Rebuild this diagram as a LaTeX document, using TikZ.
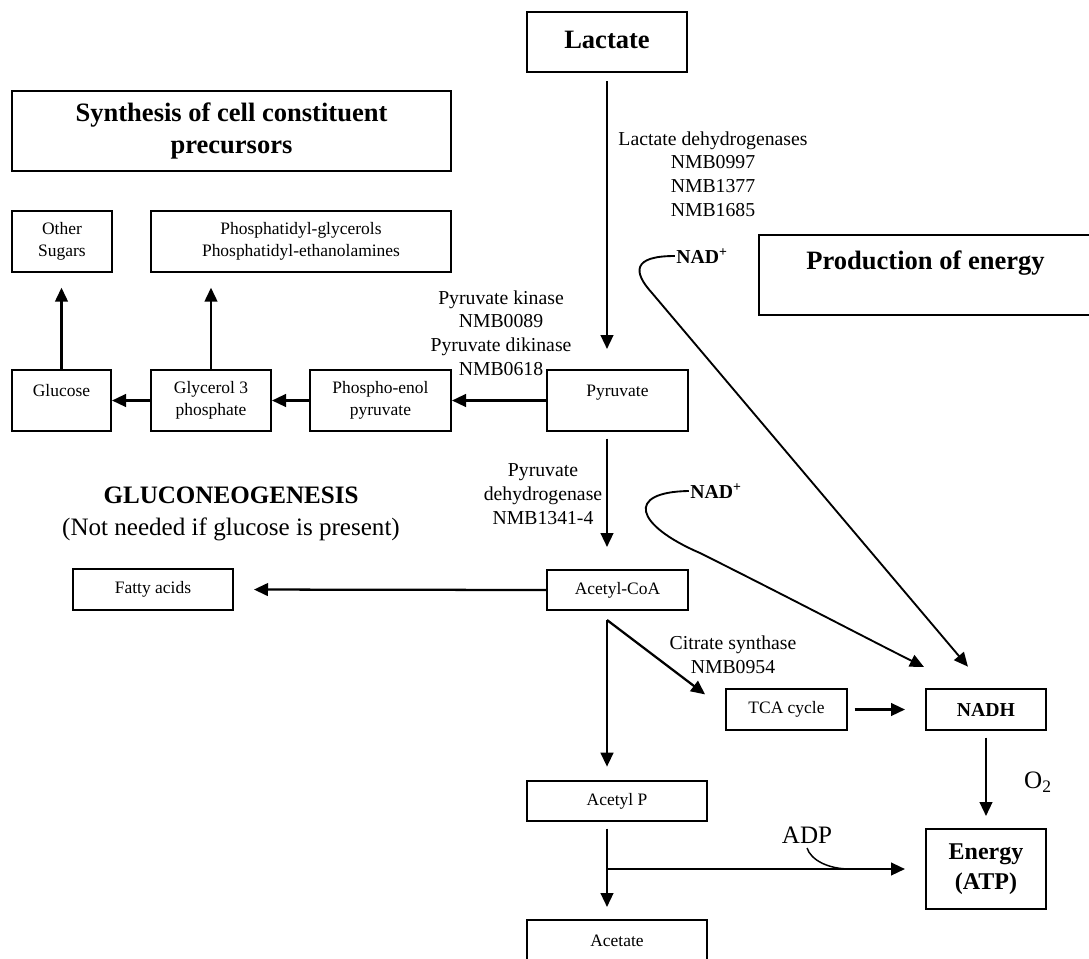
\documentclass[tikz,border=0pt]{standalone}
\usepackage{fontspec}
\setmainfont{Liberation Serif}
\usetikzlibrary{arrows.meta}

\newcommand{\boxfont}{\fontsize{13.1pt}{16.5pt}\selectfont}
\newcommand{\enzfont}{\fontsize{14.8pt}{17.8pt}\selectfont}
\newcommand{\headfont}{\fontsize{19.9pt}{24pt}\selectfont\bfseries}
\newcommand{\sidefont}{\fontsize{18.8pt}{24pt}\selectfont}
\newcommand{\energyfont}{\fontsize{18pt}{22.5pt}\selectfont\bfseries}

\tikzset{
  box/.style={draw, line width=1.5pt, align=center, inner sep=0pt, font=\boxfont},
  headbox/.style={box, font=\headfont},
  upper/.style={text height=9pt, text depth=15pt},
  flow/.style={line width=1.7pt, -{Triangle[length=10.5pt,width=9.5pt]}},
  recycle/.style={line width=1.4pt, -{Triangle[length=10.5pt,width=9.5pt]}},
  enz/.style={align=center, font=\enzfont},
  cofac/.style={inner sep=1pt, font=\enzfont\bfseries},
}

\begin{document}
\begin{tikzpicture}[x=0.75pt, y=-0.75pt]
    \useasboundingbox (0,0) rectangle (1089,958);
    \clip (0,0) rectangle (1089,958);
    % headings
    \node[headbox, minimum width=120pt, minimum height=45pt, text depth=3pt] (lactate) at (607,42) {Lactate};
    \node[headbox, minimum width=329.25pt, minimum height=60pt] (synth) at (231.5,131) {Synthesis of cell constituent\\precursors};
    \node[headbox, minimum width=249.75pt, minimum height=60pt, text height=14pt, text depth=23pt] (prod) at (925.5,275) {Production of energy};
    % precursors
    \node[box, minimum width=75pt, minimum height=45.75pt] (sugars) at (62,241.5) {Other\\Sugars};
    \node[box, minimum width=225pt, minimum height=45.75pt] (lipids) at (301,241.5) {Phosphatidyl-glycerols\\Phosphatidyl-ethanolamines};
    % gluconeogenesis row
    \node[box, upper, minimum width=74.25pt, minimum height=45.75pt] (glucose) at (61.5,400.5) {Glucose};
    \node[box, minimum width=90pt, minimum height=45.75pt] (glycerol) at (211,400.5) {Glycerol 3\\phosphate};
    \node[box, minimum width=105.75pt, minimum height=45.75pt] (pep) at (380.5,400.5) {Phospho-enol\\pyruvate};
    \node[box, upper, minimum width=105.75pt, minimum height=45.75pt] (pyruvate) at (617.5,400.5) {Pyruvate};
    \node[align=center, font=\sidefont] (gng) at (231,514) {\textbf{GLUCONEOGENESIS}\\(Not needed if glucose is present)};
    % lower column
    \node[box, minimum width=120pt, minimum height=30.75pt] (fatty) at (153,589.5) {Fatty acids};
    \node[box, minimum width=105.75pt, minimum height=30pt] (acoa) at (617.5,590) {Acetyl-CoA};
    \node[box, minimum width=135pt, minimum height=30pt] (acetp) at (617,801) {Acetyl P};
    \node[box, minimum width=135pt, minimum height=30.75pt] (acetate) at (617,940.5) {Acetate};
    % energy side
    \node[box, minimum width=90.75pt, minimum height=30.75pt] (tca) at (786.5,709.5) {TCA cycle};
    \node[box, font=\enzfont\bfseries, minimum width=90pt, minimum height=30.75pt] (nadh) at (986,709.5) {NADH};
    \node[box, font=\energyfont, minimum width=90pt, minimum height=60pt] (energy) at (986,869) {Energy\\(ATP)};
    % enzymes
    \node[enz] (ldh) at (713,174) {Lactate dehydrogenases\\NMB0997\\NMB1377\\NMB1685};
    \node[enz] (pk) at (501,333) {Pyruvate kinase\\NMB0089\\Pyruvate dikinase\\NMB0618};
    \node[enz] (pdh) at (543,494) {Pyruvate\\dehydrogenase\\NMB1341-4};
    \node[enz] (cs) at (733,655) {Citrate synthase\\NMB0954};
    % cofactors
    \node[cofac] (nadup) at (702,256) {NAD\textsuperscript{+}};
    \node[cofac] (nadlow) at (716,491) {NAD\textsuperscript{+}};
    \node[font=\sidefont] (o2) at (1038,782) {O\textsubscript{2}};
    \node[font=\sidefont] (adp) at (807,835) {ADP};
    % main pathway
    \draw[flow, shorten <=6pt, shorten >=15pt] (lactate.south) -- (lactate.south |- pyruvate.north);
    \draw[flow, shorten <=5pt, shorten >=16.5pt] (pyruvate.south -| lactate) -- (acoa.north -| lactate);
    \coordinate (split) at (607,620);
    \draw[flow, shorten >=10pt] (split) -- (acetp.north -| split);
    \draw[flow, shorten >=18.75pt] (split) -- (tca.west);
    \draw[flow, shorten <=5pt, shorten >=9pt] (acetp.south -| split) -- (acetate.north -| split);
    \coordinate (branch) at (energy.west -| split);
    \draw[flow, shorten >=15pt] (branch) -- (energy.west);
    \coordinate (adpjoin) at (850,869);
    \draw[line width=1.1pt] (adp.south) .. controls +(4,12) and +(-22,0) .. (adpjoin);
    % gluconeogenesis
    \draw[flow] (pyruvate.west) -- (pep.east);
    \draw[flow] (pep.west) -- (glycerol.east);
    \draw[flow] (glycerol.west) -- (glucose.east);
    \draw[flow, shorten >=11pt] (glucose.north) -- (glucose.north |- sugars.south);
    \draw[flow, shorten >=11pt] (glycerol.north) -- (glycerol.north |- lipids.south);
    \draw[flow, shorten >=15pt] (acoa.west) -- (fatty.east);
    % energy
    \draw[flow, shorten <=5pt, shorten >=15pt] (tca.east) -- (nadh.west);
    \draw[flow, shorten <=5pt, shorten >=9pt] (nadh.south) -- (energy.north);
    \draw[recycle, shorten >=21pt] (nadup.west) .. controls (632,256) and (633,272) .. (652,293) -- (nadh.north);
    \coordinate (nadtip) at ([shift={(-1,-21)}]nadh.north west);
    \draw[recycle] (nadlow.west) .. controls (625,492) and (635,525) .. (700,553) .. controls (790,598) and (870,640) .. (nadtip);
\end{tikzpicture}
\end{document}
